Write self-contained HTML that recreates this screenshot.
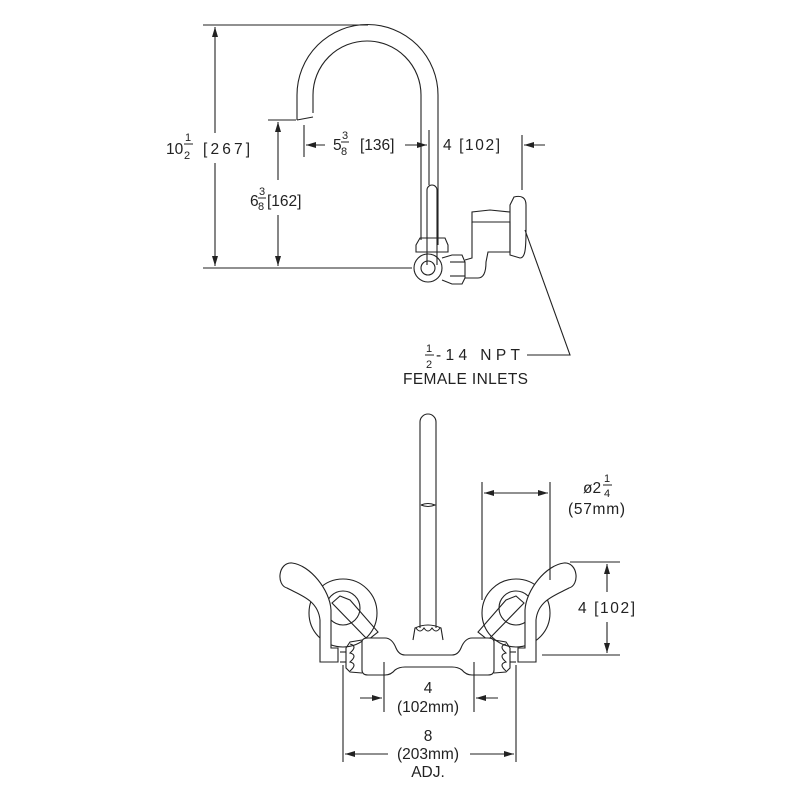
<!DOCTYPE html>
<html><head><style>
html,body{margin:0;padding:0;background:#fff;}
svg{display:block;}
text{font-family:"Liberation Sans",sans-serif;fill:#222;font-size:15.5px;}
.f{font-size:11px;}
</style></head><body>
<svg width="800" height="800" viewBox="0 0 800 800" xmlns="http://www.w3.org/2000/svg">
<defs>
<marker id="a" viewBox="0 0 10 6" refX="10" refY="3" markerWidth="10" markerHeight="6" orient="auto-start-reverse" markerUnits="userSpaceOnUse"><path d="M0,0 L10,3 L0,6 Z" fill="#222"/></marker>
</defs>
<g fill="none" stroke="#222" stroke-width="1.1">
<line x1="203" y1="25" x2="368" y2="25"/>
<line x1="203" y1="268" x2="412" y2="268"/>
<line x1="215" y1="27" x2="215" y2="133" marker-start="url(#a)"/>
<line x1="215" y1="163" x2="215" y2="266" marker-end="url(#a)"/>
<line x1="268" y1="120" x2="296" y2="120"/>
<line x1="278" y1="122" x2="278" y2="180" marker-start="url(#a)"/>
<line x1="278" y1="215" x2="278" y2="266" marker-end="url(#a)"/>
<line x1="304" y1="125" x2="304" y2="157"/>
<line x1="325" y1="145" x2="306" y2="145" marker-end="url(#a)"/>
<line x1="405" y1="145" x2="427" y2="145" marker-end="url(#a)"/>
<line x1="429" y1="130" x2="429" y2="185"/>
<line x1="522" y1="135" x2="522" y2="190"/>
<line x1="545" y1="145" x2="524" y2="145" marker-end="url(#a)"/>
<path d="M297,120 L297,95 A70,70 0 0 1 438,95 L438,245"/>
<path d="M313,113 L313,95 A54,54 0 0 1 421,95 L421,240"/>
<path d="M297,120 L313,117"/>
<path d="M427,265 L427,190 A5,5 0 0 1 437,190 L437,265"/>
<path d="M416,245 L420,238 L445,238 L448,245 L448,252 L416,252 Z"/>
<circle cx="428" cy="268" r="14"/>
<circle cx="428" cy="268" r="7"/>
<path d="M442,258 L452,255 L462,255 L465,262 L465,278 L462,284 L452,284 L442,280"/>
<line x1="450" y1="262" x2="465" y2="262"/><line x1="450" y1="276" x2="465" y2="276"/>
<path d="M465,278 L478,278 C484,278 486,272 486,262 L488,252 L510,252 L510,222 L472,222 L472,212 L490,210 L510,212"/>
<path d="M465,260 L472,258 L472,222"/>
<path d="M510,205 L510,255 L520,258 C525,258 526,250 526,230 L526,205 C526,198 522,195 514,197 Z"/>
<path d="M525,230 L570,355 L527,355"/>
<path d="M420,628 L420,422 A8,8 0 0 1 436,422 L436,628"/>
<path d="M421,505 Q428,502 435,505 Q428,508 421,505"/>
<path d="M413,640 L415,628 Q428,622 441,628 L443,640"/>
<path d="M416,628 q4,6 8,0 q4,6 8,0 q4,6 8,0"/>
<circle cx="343" cy="613" r="34"/>
<circle cx="343" cy="608" r="17"/>
<circle cx="516" cy="613" r="34"/>
<circle cx="516" cy="608" r="17"/>
<path d="M332,603 L340,596 L350,600 L378,632 L368,640 Z"/>
<path d="M524,603 L516,596 L506,600 L478,632 L488,640 Z"/>
<path d="M287,588 C300,595 318,600 320,620 L320,662 L338,662 L338,648 L331,648 L331,610 C330,590 310,565 292,563 C278,562 276,585 287,588 Z" fill="#fff"/>
<path d="M569,588 C556,595 538,600 536,620 L536,662 L518,662 L518,648 L525,648 L525,610 C526,590 546,565 564,563 C578,562 580,585 569,588 Z" fill="#fff"/>
<path d="M362,642 Q362,638 368,638 L385,638 Q392,638 396,648 Q399,655 405,655 L452,655 Q458,655 461,648 Q465,638 472,638 L488,638 Q494,638 494,642 L494,670 Q494,675 488,675 L472,675 Q466,675 462,670 Q458,667 452,667 L405,667 Q399,667 395,670 Q391,675 385,675 L368,675 Q362,675 362,670 Z" fill="#fff"/>
<path d="M362,640 L350,642 L346,648 L346,668 L350,672 L362,673"/>
<path d="M350,644 q8,2 0,9 q8,2 0,9 q8,2 0,9"/>
<path d="M494,640 L506,642 L510,648 L510,668 L506,672 L494,673"/>
<path d="M506,644 q-8,2 0,9 q-8,2 0,9 q-8,2 0,9"/>
<line x1="340" y1="652" x2="346" y2="652"/><line x1="340" y1="662" x2="346" y2="662"/>
<line x1="510" y1="652" x2="516" y2="652"/><line x1="510" y1="662" x2="516" y2="662"/>
<line x1="482" y1="482" x2="482" y2="600"/>
<line x1="550" y1="482" x2="550" y2="580"/>
<line x1="484" y1="493" x2="548" y2="493" marker-start="url(#a)" marker-end="url(#a)"/>
<line x1="570" y1="562" x2="620" y2="562"/>
<line x1="542" y1="655" x2="620" y2="655"/>
<line x1="607" y1="564" x2="607" y2="592" marker-start="url(#a)"/>
<line x1="607" y1="622" x2="607" y2="653" marker-end="url(#a)"/>
<line x1="384" y1="662" x2="384" y2="712"/>
<line x1="474" y1="662" x2="474" y2="712"/>
<line x1="360" y1="698" x2="382" y2="698" marker-end="url(#a)"/>
<line x1="498" y1="698" x2="476" y2="698" marker-end="url(#a)"/>
<line x1="343" y1="665" x2="343" y2="762"/>
<line x1="516" y1="665" x2="516" y2="762"/>
<line x1="388" y1="754" x2="345" y2="754" marker-end="url(#a)"/>
<line x1="470" y1="754" x2="514" y2="754" marker-end="url(#a)"/>
</g>
<text x="166" y="154">10</text>
<text x="185" y="141" class="f">1</text>
<line x1="184" y1="144" x2="193" y2="144" stroke="#222"/>
<text x="184" y="159" class="f">2</text>
<text x="203" y="154" textLength="47">[267]</text>
<text x="250" y="206">6</text>
<text x="259" y="195" class="f">3</text>
<line x1="258" y1="198" x2="266" y2="198" stroke="#222"/>
<text x="258" y="210" class="f">8</text>
<text x="267" y="206">[162]</text>
<text x="333" y="150">5</text>
<text x="342" y="139" class="f">3</text>
<line x1="341" y1="142" x2="349" y2="142" stroke="#222"/>
<text x="341" y="155" class="f">8</text>
<text x="360" y="150">[136]</text>
<text x="443" y="150" textLength="57">4 [102]</text>
<text x="426" y="352" class="f">1</text>
<line x1="425" y1="355" x2="434" y2="355" stroke="#222"/>
<text x="426" y="368" class="f">2</text>
<text x="436" y="360" textLength="84">-14 NPT</text>
<text x="403" y="384" textLength="125">FEMALE INLETS</text>
<text x="583" y="493">ø2</text>
<text x="604" y="482" class="f">1</text>
<line x1="603" y1="485" x2="612" y2="485" stroke="#222"/>
<text x="604" y="497" class="f">4</text>
<text x="568" y="514" textLength="57">(57mm)</text>
<text x="578" y="613" textLength="57">4 [102]</text>
<text x="428" y="693" text-anchor="middle">4</text>
<text x="428" y="712" text-anchor="middle">(102mm)</text>
<text x="428" y="741" text-anchor="middle">8</text>
<text x="428" y="759" text-anchor="middle">(203mm)</text>
<text x="428" y="777" text-anchor="middle">ADJ.</text>
</svg>
</body></html>
